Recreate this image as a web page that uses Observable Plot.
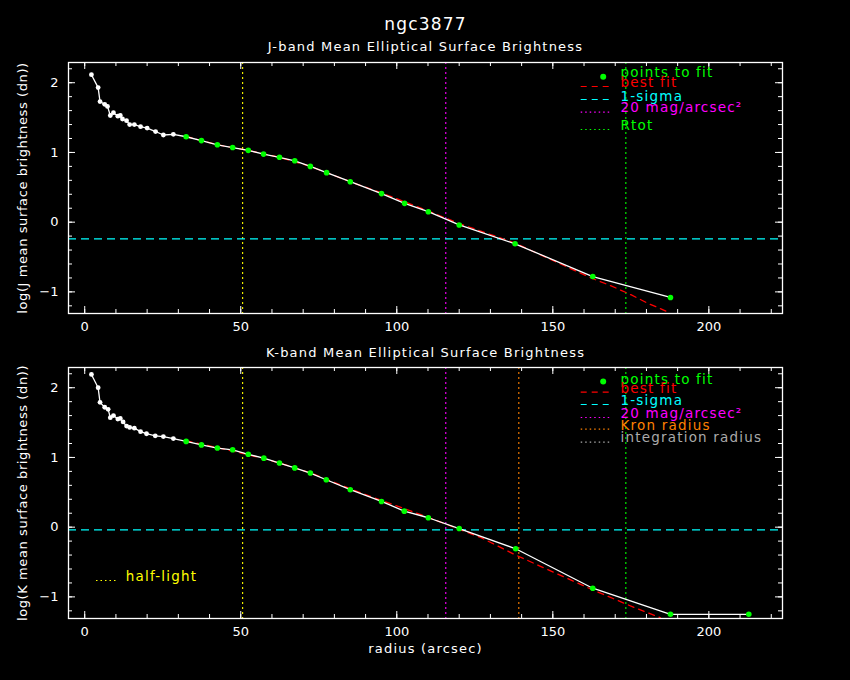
<!DOCTYPE html>
<html><head><meta charset="utf-8">
<script src="https://cdn.jsdelivr.net/npm/d3@7"></script>
<script src="https://cdn.jsdelivr.net/npm/@observablehq/plot@0.6"></script>
<style>
html,body{margin:0;padding:0;background:#000;}
#chart{position:relative;width:850px;height:680px;background:#000;overflow:hidden;}
#chart svg{display:block;}
#chart svg text{letter-spacing:1.2px;}
#chart svg g[aria-label="x-axis tick label"] text,
#chart svg g[aria-label="y-axis tick label"] text{letter-spacing:0;}
</style></head><body><div id="chart"></div>
<script>
// ---------- data ----------
const title = "ngc3877";
const xMajor = [0, 50, 100, 150, 200];
const xMinor = [0,10,20,30,40,50,60,70,80,90,100,110,120,130,140,150,160,170,180,190,200,210,220];
const yMajor = [-1, 0, 1, 2];
const yMinor = [-1.2,-1,-0.8,-0.6,-0.4,-0.2,0,0.2,0.4,0.6,0.8,1,1.2,1.4,1.6,1.8,2,2.2];

// J band profile (radius arcsec, log mean surface brightness)
const rJ  = [2.15,4.3,4.9,6.4,7.3,8.2,9.2,10.6,11.4,12.1,13.4,14.4,15.9,17.9,20.0,22.7,25.2,28.4,
             32.5,37.4,42.5,47.4,52.4,57.3,62.4,67.3,72.3,77.5,85.1,95.1,102.5,110.1,120.0,137.9,162.8,187.7];
const muJ = [2.115,1.93,1.73,1.69,1.66,1.53,1.57,1.52,1.53,1.48,1.455,1.40,1.40,1.37,1.35,1.30,1.25,1.26,
             1.225,1.17,1.11,1.07,1.03,0.976,0.93,0.88,0.80,0.71,0.58,0.41,0.27,0.15,-0.04,-0.31,-0.78,-1.08];
const nWhiteJ = 18;
const fitRJ = [32.5,42.5,52.4,62.4,72.3,85.1,95.1,110.1,120,137.9,150,162.8,168.5,175,180.3,187.5];
const fitVJ = [1.23,1.11,1.03,0.93,0.80,0.58,0.42,0.16,-0.02,-0.30,-0.55,-0.81,-0.91,-1.04,-1.16,-1.30];
const sigmaJ = -0.24;
const halfJ = 50.6, mag20J = 115.7, rtotJ = 173.4;

// K band profile
const rK  = [2.15,4.3,4.9,6.4,7.5,8.2,9.2,10.6,11.4,12.3,13.4,14.4,15.9,17.9,19.8,22.6,25.2,28.4,
             32.5,37.4,42.5,47.4,52.4,57.4,62.4,67.3,72.3,77.4,85.1,95.1,102.4,110.1,120.0,138.1,162.8,187.7,212.8];
const muK = [2.19,2.0,1.79,1.72,1.69,1.57,1.60,1.55,1.56,1.51,1.45,1.43,1.42,1.37,1.34,1.31,1.30,1.27,
             1.23,1.18,1.135,1.11,1.045,0.99,0.92,0.85,0.776,0.68,0.537,0.369,0.23,0.135,-0.02,-0.31,-0.876,-1.25,-1.25];
const nWhiteK = 18;
const fitRK = [32.5,42.5,52.4,62.4,72.3,85.1,95.3,110.1,120,127,138.1,151.4,162.8,176,184.5];
const fitVK = [1.24,1.14,1.04,0.92,0.78,0.55,0.38,0.14,-0.03,-0.15,-0.40,-0.67,-0.90,-1.15,-1.30];
const sigmaK = -0.04;
const halfK = 50.6, mag20K = 115.7, kronK = 139.1, integK = 173.4;

// ---------- styling ----------
const GREEN="#00ff00", RED="#ff0000", CYAN="#00ffff", MAGENTA="#ff00ff", YELLOW="#ffff00", ORANGE="#ff8000", GRAY="#aaaaaa", WHITE="#ffffff";
const W = 850, H = 340, ML = 68, MR = 68;
const xDomain = [-5.2, 223.6], yDomain = [-1.31, 2.29];
const DOT = "2,3", LDOT = "1.5,3", DASH = "6,5";

function legendMarks(items) {
  const ms = [];
  for (const it of items) {
    if (it.dot) {
      ms.push(Plot.dot([0], {x: xDomain[0], y: yDomain[1], dx: it.dx0, dy: it.lineDy, r: 3, fill: it.color, stroke: "none"}));
    } else {
      ms.push(Plot.ruleY([yDomain[1]], {stroke: it.color, strokeDasharray: it.dash, strokeWidth: 1.2,
        insetLeft: it.x0 - ML, insetRight: (W - MR) - it.x1, dy: it.lineDy}));
    }
    ms.push(Plot.text([it.label], {text: d => d, frameAnchor: "top-left", dx: it.tx - ML, dy: it.textDy,
      lineAnchor: "bottom", textAnchor: "start", fill: it.color, fontSize: 13.5}));
  }
  return ms;
}

function panel(o) {
  const iw = W - ML - MR, ih = H - o.mt - o.mb;
  const pts = o.r.map((r, i) => ({r, mu: o.mu[i], fit: i >= o.nWhite}));
  const fit = o.fitR.map((r, i) => ({r, mu: o.fitV[i]}));
  const marks = [];
  for (const v of o.vlines) marks.push(Plot.ruleX([v.x], {stroke: v.color, strokeDasharray: DOT, strokeWidth: 1.1}));
  marks.push(Plot.ruleY([o.sigma], {stroke: CYAN, strokeDasharray: "8,5", strokeWidth: 1.2}));
  marks.push(Plot.line(fit, {x: "r", y: "mu", stroke: RED, strokeDasharray: DASH, strokeWidth: 1.3}));
  marks.push(Plot.line(pts, {x: "r", y: "mu", stroke: WHITE, strokeWidth: 1.3}));
  marks.push(Plot.dot(pts.filter(d => !d.fit), {x: "r", y: "mu", r: 2.4, fill: WHITE, stroke: "none"}));
  marks.push(Plot.dot(pts.filter(d => d.fit), {x: "r", y: "mu", r: 2.8, fill: GREEN, stroke: "none"}));
  marks.push(Plot.frame({stroke: WHITE, strokeWidth: 1.3}));
  // inward ticks on all four sides
  marks.push(Plot.ruleX(xMinor, {x: d => d, insetTop: ih - 4, stroke: WHITE}));
  marks.push(Plot.ruleX(xMajor, {x: d => d, insetTop: ih - 7, stroke: WHITE}));
  marks.push(Plot.ruleX(xMinor, {x: d => d, insetBottom: ih - 4, stroke: WHITE}));
  marks.push(Plot.ruleX(xMajor, {x: d => d, insetBottom: ih - 7, stroke: WHITE}));
  marks.push(Plot.ruleY(yMinor, {y: d => d, insetRight: iw - 4, stroke: WHITE}));
  marks.push(Plot.ruleY(yMajor, {y: d => d, insetRight: iw - 7, stroke: WHITE}));
  marks.push(Plot.ruleY(yMinor, {y: d => d, insetLeft: iw - 4, stroke: WHITE}));
  marks.push(Plot.ruleY(yMajor, {y: d => d, insetLeft: iw - 7, stroke: WHITE}));
  marks.push(Plot.axisX({ticks: xMajor, tickSize: 0, tickPadding: 8, label: null, fontSize: 13, tickFormat: d3.format("d")}));
  marks.push(Plot.axisY({ticks: yMajor, tickSize: 0, tickPadding: 10, label: null, fontSize: 13, tickFormat: d3.format("d")}));
  marks.push(...legendMarks(o.legend));
  marks.push(...o.extra);
  marks.push(Plot.text([o.ylabel], {text: d => d, frameAnchor: "left", dx: -46, rotate: -90,
    textAnchor: "middle", lineAnchor: "middle", fill: WHITE, fontSize: 13}));
  const svg = Plot.plot({
    width: W, height: H, marginLeft: ML, marginRight: MR, marginTop: o.mt, marginBottom: o.mb,
    x: {domain: xDomain}, y: {domain: yDomain},
    style: {background: "black", color: "white", fontFamily: "DejaVu Sans", fontSize: "13px", overflow: "visible"},
    marks
  });
  d3.select(svg).selectAll("text")
    .filter(function() { return this.textContent === o.ylabel; })
    .style("letter-spacing", "0.6px");
  return svg;
}

const topPanel = panel({
  mt: 62, mb: 27, r: rJ, mu: muJ, nWhite: nWhiteJ, fitR: fitRJ, fitV: fitVJ, sigma: sigmaJ,
  vlines: [{x: halfJ, color: YELLOW}, {x: mag20J, color: MAGENTA}, {x: rtotJ, color: GREEN}],
  ylabel: "log(J mean surface brightness (dn))",
  legend: [
    {dot: true, label: "points to fit", color: GREEN, dx0: 602.7 - ML, lineDy: 14.3, tx: 620, textDy: 14.7},
    {label: "best fit", color: RED, dash: DASH, x0: 580.7, x1: 611, lineDy: 24, tx: 620, textDy: 24},
    {label: "1-sigma", color: CYAN, dash: DASH, x0: 580.7, x1: 611, lineDy: 37, tx: 620, textDy: 38},
    {label: "20 mag/arcsec²", color: MAGENTA, dash: LDOT, x0: 580.7, x1: 611, lineDy: 49.7, tx: 620, textDy: 49.7},
    {label: "Rtot", color: GREEN, dash: LDOT, x0: 580.7, x1: 611, lineDy: 67, tx: 620, textDy: 67}
  ],
  extra: [
    Plot.text([title], {text: d => d, frameAnchor: "top", dy: -32.7, lineAnchor: "bottom", fill: WHITE, fontSize: 17}),
    Plot.text(["J-band Mean Elliptical Surface Brightness"], {text: d => d, frameAnchor: "top", dy: -12, lineAnchor: "bottom", fill: WHITE, fontSize: 13})
  ]
});

const botPanel = panel({
  mt: 27, mb: 62, r: rK, mu: muK, nWhite: nWhiteK, fitR: fitRK, fitV: fitVK, sigma: sigmaK,
  vlines: [{x: halfK, color: YELLOW}, {x: mag20K, color: MAGENTA}, {x: kronK, color: ORANGE}, {x: integK, color: GREEN}],
  ylabel: "log(K mean surface brightness (dn))",
  legend: [
    {dot: true, label: "points to fit", color: GREEN, dx0: 602.7 - ML, lineDy: 14, tx: 620, textDy: 16.3},
    {label: "best fit", color: RED, dash: DASH, x0: 580.7, x1: 611, lineDy: 24.7, tx: 620, textDy: 25.3},
    {label: "1-sigma", color: CYAN, dash: DASH, x0: 580.7, x1: 611, lineDy: 37, tx: 620, textDy: 37},
    {label: "20 mag/arcsec²", color: MAGENTA, dash: LDOT, x0: 580.7, x1: 611, lineDy: 50, tx: 620, textDy: 50},
    {label: "Kron radius", color: ORANGE, dash: LDOT, x0: 580.7, x1: 611, lineDy: 61.7, tx: 620, textDy: 62.3},
    {label: "integration radius", color: GRAY, dash: LDOT, x0: 580.7, x1: 611, lineDy: 74.7, tx: 620, textDy: 74.7},
    {label: "half-light", color: YELLOW, dash: LDOT, x0: 96, x1: 116.7, lineDy: 213, tx: 125.3, textDy: 213.7}
  ],
  extra: [
    Plot.text(["K-band Mean Elliptical Surface Brightness"], {text: d => d, frameAnchor: "top", dy: -10.3, lineAnchor: "bottom", fill: WHITE, fontSize: 13}),
    Plot.text(["radius (arcsec)"], {text: d => d, frameAnchor: "bottom", dy: 34, lineAnchor: "bottom", fill: WHITE, fontSize: 13})
  ]
});

const chart = document.getElementById("chart");
chart.appendChild(topPanel);
chart.appendChild(botPanel);
</script></body></html>
